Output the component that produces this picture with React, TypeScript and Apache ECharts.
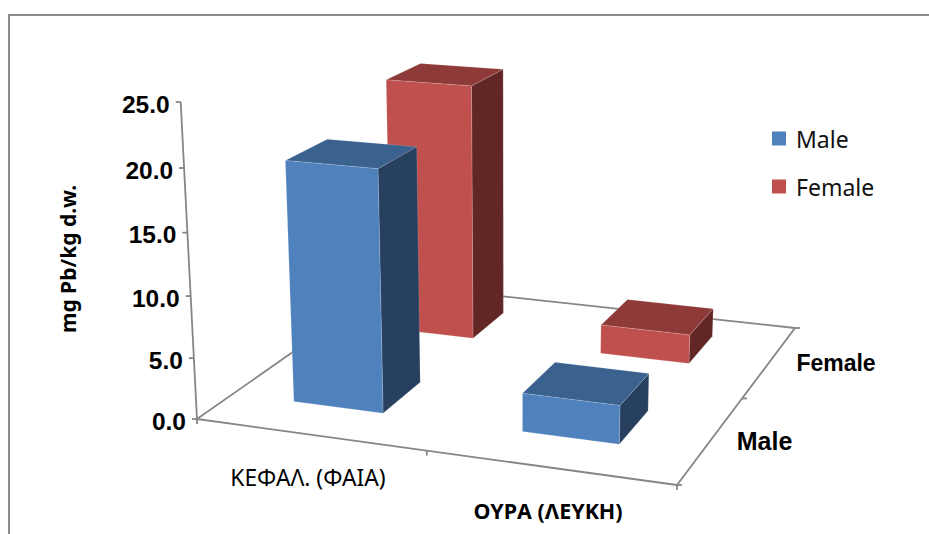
import React, { useEffect, useRef } from "react";
import * as echarts from "echarts";

const categories = ["ΚΕΦΑΛ. (ΦΑΙΑ)", "ΟΥΡΑ (ΛΕΥΚΗ)"];
const seriesNames = ["Male", "Female"];
const maleValues = [19.6, 3.1];
const femaleValues = [22.1, 2.5];
const yTicks = [0, 5, 10, 15, 20, 25];
const yTickLabels = ["0.0", "5.0", "10.0", "15.0", "20.0", "25.0"];
const yAxisTitle = "mg Pb/kg d.w.";

const Y_MAX = 25;
const BAR_FRACTION = 0.4;
const AXIS_COLOR = "#868686";
const SANS = '"Noto Sans", sans-serif';
const ARIAL = '"Liberation Sans", Arial, sans-serif';

// Floor corners of the 3D box in the picture, and where verticals converge
const FLOOR = { p00: [197, 419], p10: [677, 485], p11: [795, 328], p01: [390, 284] };
const VANISH = [510, 6500];
const TOP_Y = 102;
const U_SHIFT = -0.011;
const V_SHIFT = [0.012, 0.027];

function buildProjection() {
  const { p00, p10, p11, p01 } = FLOOR;
  const dx1 = p10[0] - p11[0], dy1 = p10[1] - p11[1];
  const dx2 = p01[0] - p11[0], dy2 = p01[1] - p11[1];
  const sx = p00[0] - p10[0] + p11[0] - p01[0];
  const sy = p00[1] - p10[1] + p11[1] - p01[1];
  const det = dx1 * dy2 - dy1 * dx2;
  const g = (sx * dy2 - sy * dx2) / det;
  const h = (dx1 * sy - dy1 * sx) / det;
  const a = p10[0] - p00[0] + g * p10[0];
  const b = p01[0] - p00[0] + h * p01[0];
  const d = p10[1] - p00[1] + g * p10[1];
  const e = p01[1] - p00[1] + h * p01[1];
  const k = (TOP_Y - p00[1]) / (VANISH[1] - TOP_Y);
  return (u: number, v: number, t: number) => {
    const w = g * u + h * v + 1 + k * t;
    return [
      (a * u + b * v + p00[0] + k * t * VANISH[0]) / w,
      (d * u + e * v + p00[1] + k * t * VANISH[1]) / w,
    ];
  };
}
const project = buildProjection();

const lineEl = (a: number[], b: number[]) => ({
  type: "line",
  shape: { x1: a[0], y1: a[1], x2: b[0], y2: b[1] },
  style: { stroke: AXIS_COLOR, lineWidth: 1.8, fill: "none" },
});

const textEl = (text: string, x: number, y: number, font: string, align = "center") => ({
  type: "text",
  x,
  y,
  style: { text, x: 0, y: 0, font, align, verticalAlign: "middle", fill: "#000" },
});

function barRenderer(depthIndex: number, colors: { front: string; top: string; side: string }) {
  return (params: any, api: any) => {
    const cs = params.coordSys;
    const pt = api.coord([api.value(0), api.value(1)]);
    const band = api.size([1, 0])[0] / cs.width;
    const cu = (pt[0] - cs.x) / cs.width + U_SHIFT;
    const t = (cs.y + cs.height - pt[1]) / cs.height;
    const half = (band * BAR_FRACTION) / 2;
    const cv = (depthIndex + 0.5) / seriesNames.length + V_SHIFT[depthIndex];
    const u0 = cu - half, u1 = cu + half, v0 = cv - half, v1 = cv + half;
    const face = (pts: number[][], fill: string) => ({
      type: "polygon",
      shape: { points: pts },
      style: { fill, stroke: "rgba(255,255,255,0.22)", lineWidth: 0.7 },
    });
    return {
      type: "group",
      children: [
        face([project(u1, v0, 0), project(u1, v1, 0), project(u1, v1, t), project(u1, v0, t)], colors.side),
        face([project(u0, v0, t), project(u1, v0, t), project(u1, v1, t), project(u0, v1, t)], colors.top),
        face([project(u0, v0, 0), project(u1, v0, 0), project(u1, v0, t), project(u0, v0, t)], colors.front),
      ],
    };
  };
}

function renderFloor() {
  const c00 = project(0, 0, 0), c10 = project(1, 0, 0), c11 = project(1, 1, 0), c01 = project(0, 1, 0);
  const mid = project(0.5, 0, 0), midR = project(1, 0.5, 0);
  return {
    type: "group",
    children: [
      lineEl(c00, c10), lineEl(c10, c11), lineEl(c00, c01), lineEl(c01, c11),
      lineEl(c00, [c00[0], c00[1] + 5]),
      lineEl(mid, [mid[0], mid[1] + 5]),
      lineEl(c10, [c10[0], c10[1] + 5]),
      lineEl(c10, [c10[0] + 5, c10[1]]),
      lineEl(midR, [midR[0] + 5, midR[1]]),
      lineEl(c11, [c11[0] + 5, c11[1]]),
      textEl(categories[0], 308, 477, `400 22.8px ${SANS}`),
      textEl(categories[1], 548, 510, `700 21.5px ${SANS}`),
      textEl(seriesNames[0], 764.5, 441, `700 25px ${ARIAL}`),
      textEl(seriesNames[1], 836, 363, `700 23px ${ARIAL}`),
    ],
  };
}

function renderYTick(params: any, api: any) {
  const cs = params.coordSys;
  const pt = api.coord([0, api.value(1)]);
  const p = project(0, 0, (cs.y + cs.height - pt[1]) / cs.height);
  const isTop = params.dataIndex === yTicks.length - 1;
  return {
    type: "group",
    children: [
      lineEl([p[0] - 5, p[1]], p),
      ...(isTop ? [lineEl(p, project(0, 0, 0))] : []),
      textEl(yTickLabels[params.dataIndex], p[0] - 11, p[1] + 2, `700 24.5px ${ARIAL}`, "right"),
    ],
  };
}

export default function App() {
  const ref = useRef<HTMLDivElement>(null);
  useEffect(() => {
    const chart = echarts.init(ref.current!, null, { renderer: "svg" });
    chart.setOption({
      animation: false,
      backgroundColor: "#ffffff",
      grid: { left: 188, width: 480, top: 102, height: 314 },
      xAxis: { type: "category", data: categories, axisLine: { show: false }, axisTick: { show: false }, axisLabel: { show: false } },
      yAxis: {
        type: "value",
        min: 0,
        max: Y_MAX,
        interval: 5,
        name: yAxisTitle,
        nameLocation: "middle",
        nameGap: 110,
        nameRotate: 90,
        nameTextStyle: { fontFamily: "Noto Sans", fontWeight: 700, fontSize: 21, color: "#000" },
        axisLine: { show: false },
        axisTick: { show: false },
        axisLabel: { show: false },
        splitLine: { show: false },
      },
      legend: {
        left: 772,
        top: 127,
        padding: 0,
        orient: "vertical",
        data: seriesNames,
        icon: "rect",
        itemWidth: 14,
        itemHeight: 14,
        itemGap: 25,
        textStyle: { fontFamily: "Noto Sans", fontSize: 23, color: "#111", padding: [0, 0, 0, 5] },
        selectedMode: false,
      },
      graphic: [
        {
          type: "polyline",
          shape: { points: [[9, 534], [9, 15], [929, 15]] },
          style: { stroke: "#8c8c8c", lineWidth: 2, fill: "none" },
        },
      ],
      series: [
        {
          type: "custom",
          name: "axes",
          z: 1,
          encode: { x: 0, y: 1 },
          data: [[0, 0]],
          renderItem: renderFloor,
        },
        {
          type: "custom",
          name: "yticks",
          z: 1,
          encode: { x: 0, y: 1 },
          data: yTicks.map((v) => [0, v]),
          renderItem: renderYTick,
        },
        {
          type: "custom",
          name: seriesNames[1],
          z: 2,
          itemStyle: { color: "#c0504d" },
          encode: { x: 0, y: 1 },
          data: femaleValues.map((v, i) => [i, v]),
          renderItem: barRenderer(1, { front: "#c0504d", top: "#8e3a38", side: "#622725" }),
        },
        {
          type: "custom",
          name: seriesNames[0],
          z: 3,
          itemStyle: { color: "#4f81bd" },
          encode: { x: 0, y: 1 },
          data: maleValues.map((v, i) => [i, v]),
          renderItem: barRenderer(0, { front: "#4f81bd", top: "#3b618f", side: "#274060" }),
        },
      ],
    });
    return () => chart.dispose();
  }, []);
  return <div ref={ref} style={{ position: "fixed", left: 0, top: 0, width: 929, height: 534 }} />;
}
